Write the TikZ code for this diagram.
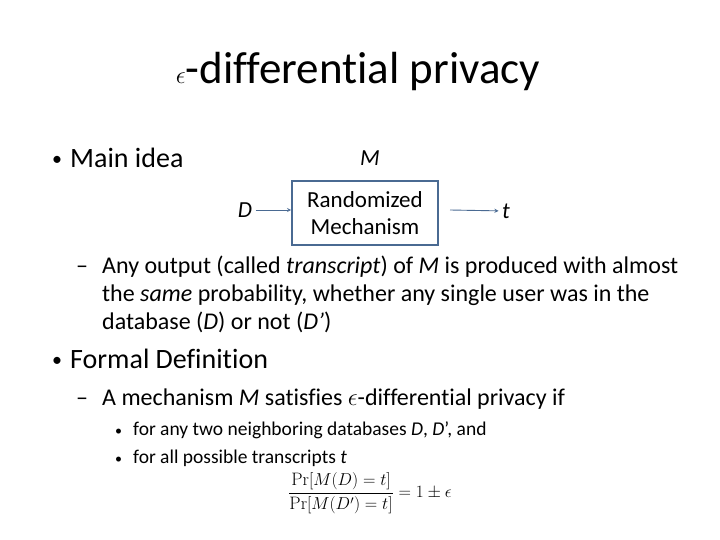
\documentclass[tikz,border=0pt]{standalone}
\usepackage{amsmath}
\usepackage{fontspec}
\setmainfont[Ligatures=NoCommon]{Carlito}
\newfontfamily\lmr{Latin Modern Roman}
\definecolor{boxblue}{RGB}{74,106,146}

\begin{document}
\begin{tikzpicture}[x=1pt, y=-1pt,
    line/.style={anchor=base west, inner sep=0pt},
    mech/.style={draw=boxblue, line width=1.6pt, minimum width=146pt, minimum height=64pt, align=center, font=\fontsize{23}{27}\selectfont},
    flow/.style={draw=boxblue, line width=0.9pt, -stealth}]

    \useasboundingbox (0, 0) rectangle (720, 540);

    \node at (358, 72) {\fontsize{45}{50}\selectfont $\epsilon$-differential privacy};

    % main idea
    \node [line] (b1) at (52, 166) {\fontsize{20}{24}\selectfont •};
    \node [line] at (70, 168) {\fontsize{28}{32}\selectfont Main idea};

    \node [mech] (mech) at (365, 213) {Randomized\\Mechanism};
    \node (m) at (370, 158) {\fontsize{23}{27}\selectfont\itshape M};
    \node (d) at (245, 210) {\fontsize{23}{27}\selectfont\itshape D};
    \node (t) at (506, 211) {\fontsize{23}{27}\selectfont\itshape t};
    \coordinate (outstart) at (450, 210);
    \draw [flow] (d) -- (mech.west |- d);
    \draw [flow] (outstart) -- (t);

    \foreach \txt/\yy in {{Any output (called \textit{transcript}) of \textit{M} is produced with almost}/273,
                          {the \textit{same} probability, whether any single user was in the}/301,
                          {database (\textit{D}) or not (\textit{D'})}/329}
        { \node [line] at (102, \yy) {\fontsize{24}{28}\selectfont \txt}; }
    \node [line] at (76, 273) {\fontsize{24}{28}\selectfont –};

    % formal definition
    \node [line] at (52, 366) {\fontsize{20}{24}\selectfont •};
    \node [line] at (70, 368) {\fontsize{28}{32}\selectfont Formal Definition};

    \node [line] at (76, 405) {\fontsize{24}{28}\selectfont –};
    \node [line] at (102, 405) {\fontsize{24}{28}\selectfont A mechanism \textit{M} satisfies $\epsilon$-differential privacy if};

    \foreach \txt/\yy in {{for any two neighboring databases \textit{D}, \textit{D}', and}/435,
                          {for all possible transcripts \textit{t}}/463}
        { \node [line] at (115, \yy) {\fontsize{14}{18}\selectfont •};
          \node [line] at (133, \yy) {\fontsize{19.5}{23}\selectfont \txt}; }

    \node at (370, 493) {\fontsize{18}{22}\selectfont $\dfrac{\mbox{\lmr Pr}[M(D)=t]}{\mbox{\lmr Pr}[M(D')=t]}=1\pm\epsilon$};

\end{tikzpicture}
\end{document}
